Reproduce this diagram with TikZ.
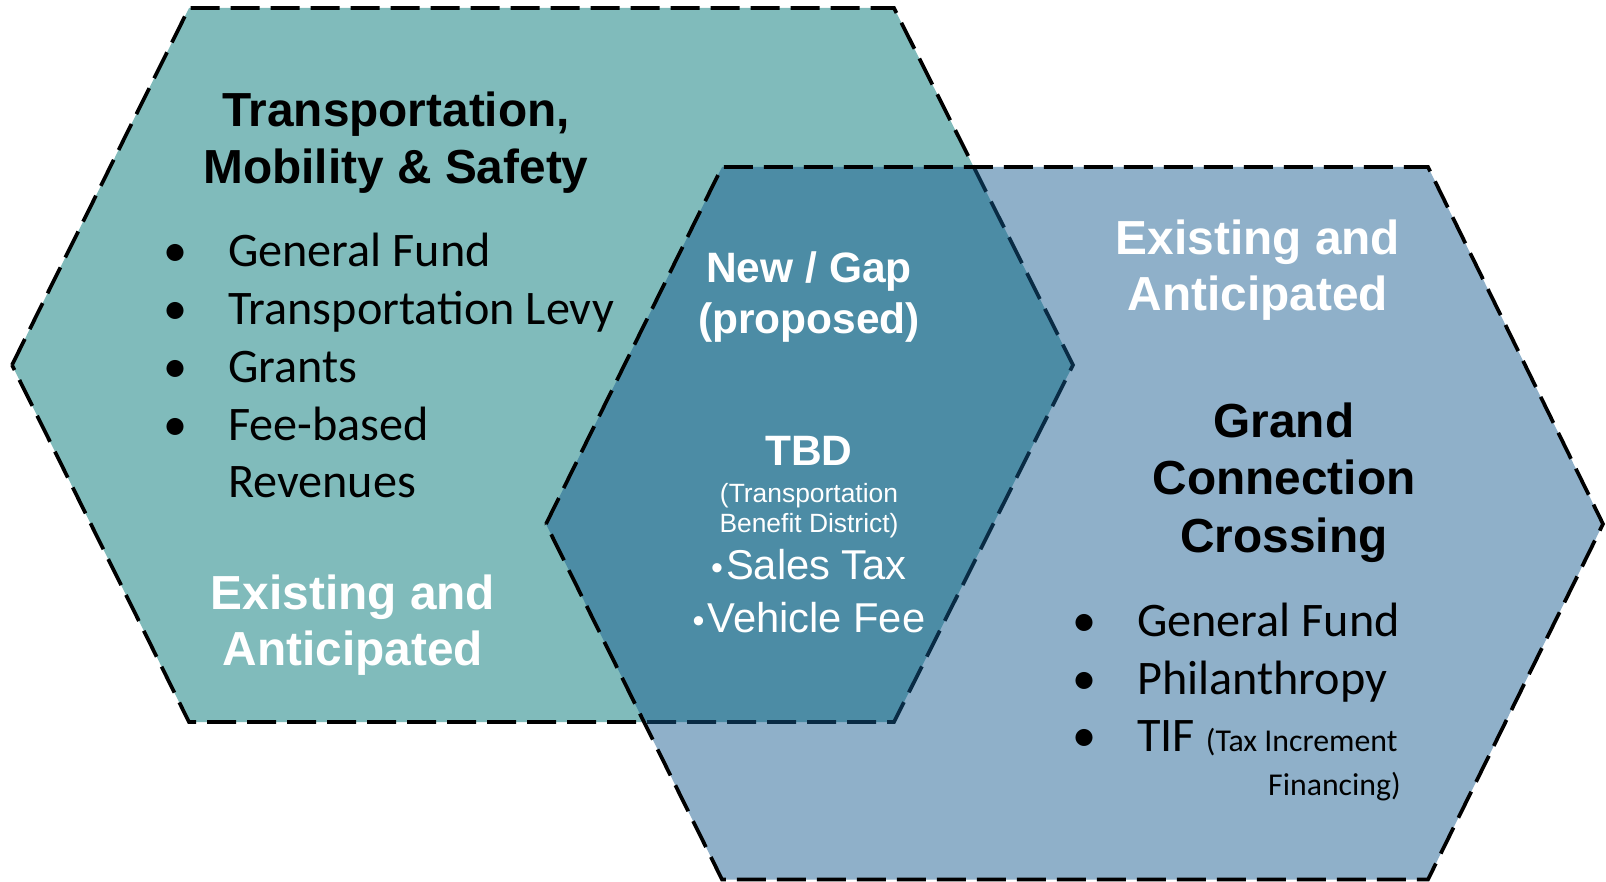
\documentclass[tikz,border=0pt]{standalone}
\usepackage{fontspec}
\setmainfont{Liberation Sans}
\newfontfamily\calfont{Carlito}
\definecolor{leftfill}{RGB}{128,187,187}
\definecolor{rightfill}{RGB}{20,90,143}
\begin{document}
\begin{tikzpicture}[x=1pt,y=-1pt,
  hexborder/.style={line width=3.7pt, dash pattern=on 29pt off 11pt, line join=miter},
  boldtitle/.style={font=\fontsize{47.8}{57}\selectfont\bfseries, anchor=base, inner sep=0pt},
  gaptitle/.style={font=\fontsize{42.5}{52}\selectfont\bfseries, anchor=base, inner sep=0pt, text=white},
  smallwhite/.style={font=\fontsize{26.4}{31}\selectfont, anchor=base, inner sep=0pt, text=white},
  midwhite/.style={font=\fontsize{41.7}{50}\selectfont, anchor=base, inner sep=0pt, text=white},
  listitem/.style={font=\calfont\fontsize{48.2}{57}\selectfont, anchor=base west, inner sep=0pt},
  listbullet/.style={font=\calfont\fontsize{48.2}{57}\selectfont, anchor=base, inner sep=0pt},
]
\useasboundingbox (0,0) rectangle (1606,882);
% left hexagon
\coordinate (a1) at (12,365);
\coordinate (a2) at (189,8);
\coordinate (a3) at (894,8);
\coordinate (a4) at (1073,365);
\coordinate (a5) at (894,722);
\coordinate (a6) at (189,722);
% right hexagon
\coordinate (b1) at (546,524);
\coordinate (b2) at (722,167);
\coordinate (b3) at (1428,167);
\coordinate (b4) at (1603,524);
\coordinate (b5) at (1428,879.5);
\coordinate (b6) at (722,879.5);

\fill[leftfill] (a1) -- (a2) -- (a3) -- (a4) -- (a5) -- (a6) -- cycle;
\draw[hexborder] (a1) -- (a2) -- (a3) -- (a4) -- (a5) -- (a6) -- cycle;
\fill[rightfill, fill opacity=0.48] (b1) -- (b2) -- (b3) -- (b4) -- (b5) -- (b6) -- cycle;
\draw[hexborder] (b1) -- (b2) -- (b3) -- (b4) -- (b5) -- (b6) -- cycle;

% left texts
\node[boldtitle] (lt1) at (396,127) {Transportation,};
\node[boldtitle] (lt2) at (396,184) {Mobility \& Safety};
\node[listbullet] (lb1) at (176,267) {•};
\node[listitem] (li1) at (228,267) {General Fund};
\node[listbullet] (lb2) at (176,325) {•};
\node[listitem] (li2) at (228,325) {Transportation Levy};
\node[listbullet] (lb3) at (176,382) {•};
\node[listitem] (li3) at (228,382) {Grants};
\node[listbullet] (lb4) at (176,440) {•};
\node[listitem] (li4) at (228,440) {Fee-based};
\node[listitem] (li5) at (228,497) {Revenues};
\node[boldtitle, text=white] (le1) at (353,609) {Existing and};
\node[boldtitle, text=white] (le2) at (353,665) {Anticipated};

% overlap texts
\node[gaptitle] (g1) at (809,283) {New / Gap};
\node[gaptitle] (g2) at (809,334) {(proposed)};
\node[gaptitle] (g3) at (809,465) {TBD};
\node[smallwhite] (g4) at (809,502) {(Transportation};
\node[smallwhite] (g5) at (809,532) {Benefit District)};
\node[midwhite] (g6) at (809,579) {{\fontsize{34}{34}\selectfont•}\kern3pt Sales Tax};
\node[midwhite] (g7) at (809,632) {{\fontsize{34}{34}\selectfont•}\kern3pt Vehicle Fee};

% right texts
\node[boldtitle, text=white] (re1) at (1258,255) {Existing and};
\node[boldtitle, text=white] (re2) at (1258,311) {Anticipated};
\node[boldtitle] (rt1) at (1284,437) {Grand};
\node[boldtitle] (rt2) at (1284,494) {Connection};
\node[boldtitle] (rt3) at (1284,552) {Crossing};
\node[listbullet] (rb1) at (1084,636) {•};
\node[listitem] (ri1) at (1137,636) {General Fund};
\node[listbullet] (rb2) at (1084,694) {•};
\node[listitem] (ri2) at (1137,694) {Philanthropy};
\node[listbullet] (rb3) at (1084,751) {•};
\node[listitem] (ri3) at (1137,751) {TIF {\fontsize{31.8}{37}\selectfont(Tax Increment}};
\node[font=\calfont\fontsize{31.8}{37}\selectfont, anchor=base east, inner sep=0pt] (ri4) at (1401,795) {Financing)};
\end{tikzpicture}
\end{document}
